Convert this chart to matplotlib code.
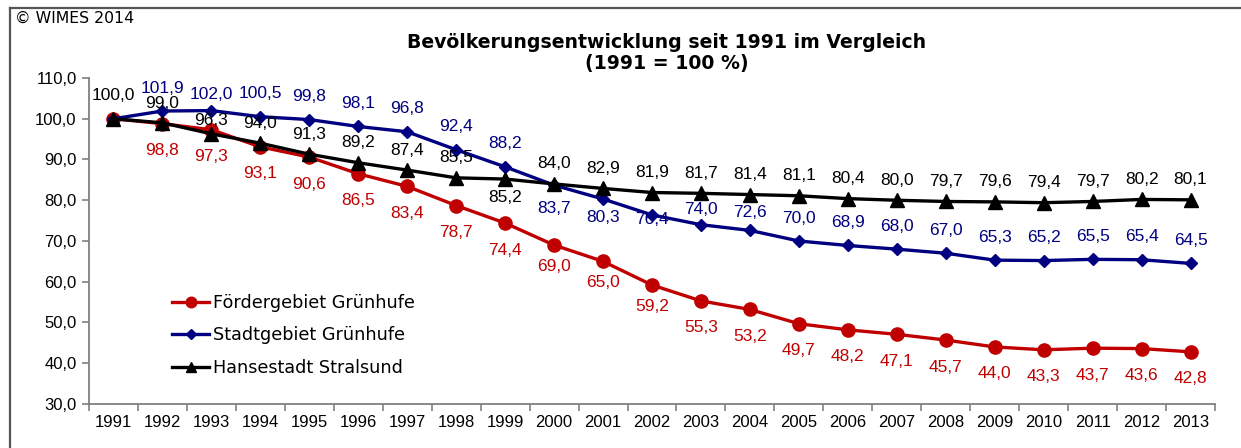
import matplotlib
matplotlib.use("Agg")
import matplotlib.pyplot as plt
from matplotlib.lines import Line2D
from matplotlib.ticker import FixedLocator, FuncFormatter

# --- data -------------------------------------------------------------
years = [str(y) for y in range(1991, 2014)]

foerdergebiet = [100.0, 98.8, 97.3, 93.1, 90.6, 86.5, 83.4, 78.7, 74.4, 69.0, 65.0,
                 59.2, 55.3, 53.2, 49.7, 48.2, 47.1, 45.7, 44.0, 43.3, 43.7, 43.6, 42.8]
stadtgebiet = [100.0, 101.9, 102.0, 100.5, 99.8, 98.1, 96.8, 92.4, 88.2, 83.7, 80.3,
               76.4, 74.0, 72.6, 70.0, 68.9, 68.0, 67.0, 65.3, 65.2, 65.5, 65.4, 64.5]
stralsund = [100.0, 99.0, 96.3, 94.0, 91.3, 89.2, 87.4, 85.5, 85.2, 84.0, 82.9,
             81.9, 81.7, 81.4, 81.1, 80.4, 80.0, 79.7, 79.6, 79.4, 79.7, 80.2, 80.1]

series_names = ["Fördergebiet Grünhufe", "Stadtgebiet Grünhufe", "Hansestadt Stralsund"]

title_text = "Bevölkerungsentwicklung seit 1991 im Vergleich\n(1991 = 100 %)"
copyright_text = "© WIMES 2014"

# --- styling ----------------------------------------------------------
RED = "#C00000"
BLUE = "#000080"
BLACK = "#000000"
AXIS_GRAY = "#808080"

W, H, DPI = 1241, 448, 100
fig = plt.figure(figsize=(W / DPI, H / DPI), dpi=DPI)
fig.patch.set_facecolor("white")

def fx(px):
    return px / W

def fy(py):
    return 1 - py / H

ax = fig.add_axes([fx(89), fy(404), fx(1215) - fx(89), fy(78) - fy(404)])
x = list(range(len(years)))

ax.plot(x, foerdergebiet, color=RED, lw=2.4, marker="o", ms=9.5, zorder=3,
        label=series_names[0])
ax.plot(x, stadtgebiet, color=BLUE, lw=2.4, marker="D", ms=6.5, zorder=4,
        label=series_names[1])
ax.plot(x, stralsund, color=BLACK, lw=2.4, marker="^", ms=9.5, zorder=5,
        label=series_names[2])

ax.set_xlim(-0.5, len(years) - 0.5)
ax.set_ylim(30, 110)

# y axis
ax.yaxis.set_major_locator(FixedLocator(list(range(30, 111, 10))))
ax.yaxis.set_major_formatter(FuncFormatter(lambda v, p: f"{v:.1f}".replace(".", ",")))
# x axis: labels centred on categories, tick marks between them
ax.set_xticks(x)
ax.set_xticklabels(years)
ax.set_xticks([i - 0.5 for i in range(len(years) + 1)], minor=True)
ax.tick_params(axis="x", which="major", length=0, pad=8, labelsize=12)
ax.tick_params(axis="x", which="minor", length=5, color=AXIS_GRAY, width=1.2,
               direction="out")
ax.tick_params(axis="y", which="major", length=5, color=AXIS_GRAY, width=1.2,
               labelsize=12, pad=4)
for lab in ax.get_xticklabels() + ax.get_yticklabels():
    lab.set_fontfamily("Liberation Sans")

for side in ("top", "right"):
    ax.spines[side].set_visible(False)
for side in ("left", "bottom"):
    ax.spines[side].set_color(AXIS_GRAY)
    ax.spines[side].set_linewidth(1.3)

# data labels (offsets in pixels, positive = up)
def fmt(v):
    return f"{v:.1f}".replace(".", ",")

label_font = dict(fontsize=12.5, family="Liberation Sans", ha="center", va="center")

red_off = {i: -27 for i in x}
for i in (9, 10, 11):
    red_off[i] = -21
blue_off = {i: 23 for i in x}
blue_off.update({2: 16, 9: -23, 10: -18, 11: -5, 12: 15, 13: 18})
black_off = {i: 20 for i in x}
black_off.update({0: 23, 1: 19, 2: 13, 8: -18})

for i, v in enumerate(foerdergebiet):
    if i == 0:
        continue
    ax.annotate(fmt(v), (i, v), xytext=(0, red_off[i]), textcoords="offset pixels",
                color=RED, zorder=6, **label_font)
for i, v in enumerate(stadtgebiet):
    if i == 0:
        continue
    ax.annotate(fmt(v), (i, v), xytext=(0, blue_off[i]), textcoords="offset pixels",
                color=BLUE, zorder=6, **label_font)
for i, v in enumerate(stralsund):
    ax.annotate(fmt(v), (i, v), xytext=(0, black_off[i]), textcoords="offset pixels",
                color=BLACK, zorder=6, **label_font)

# legend
leg = ax.legend(loc="upper left", bbox_to_anchor=(fx(172), fy(294)),
                bbox_transform=fig.transFigure, frameon=False,
                prop=dict(family="DejaVu Sans", size=12.7),
                handlelength=2.1, handletextpad=0.2, labelspacing=0.82,
                markerscale=0.8, borderaxespad=0, borderpad=0)

# title and copyright
fig.text(fx(667), fy(53), title_text, ha="center", va="center",
         fontsize=13.6, fontweight="bold", family="DejaVu Sans",
         linespacing=1.1)
fig.text(fx(15), fy(18), copyright_text, ha="left", va="center",
         fontsize=11.3, family="DejaVu Sans")

# outer frame (left and top edges)
fig.add_artist(Line2D([fx(10), fx(10)], [fy(8), fy(H + 5)], color="#555555",
                      lw=1.6, transform=fig.transFigure))
fig.add_artist(Line2D([fx(10), fx(W + 5)], [fy(8), fy(8)], color="#555555",
                      lw=1.6, transform=fig.transFigure))

fig.savefig("out.png", dpi=DPI)
